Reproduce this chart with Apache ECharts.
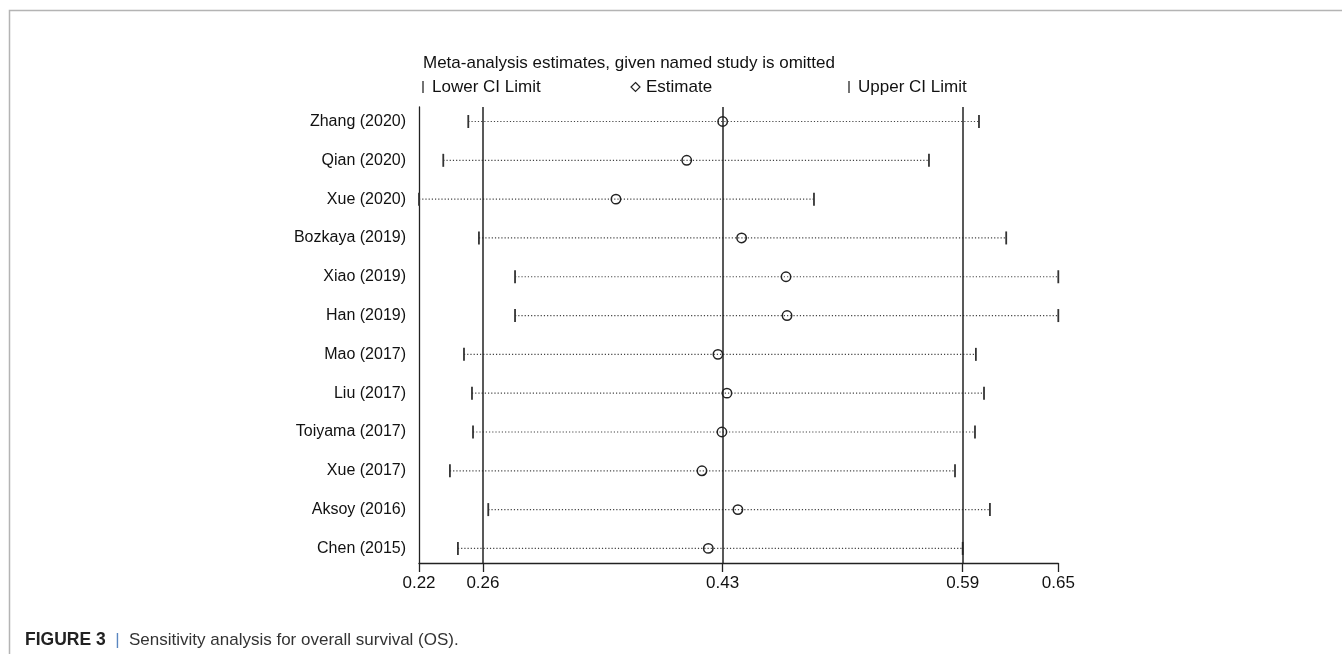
<!DOCTYPE html>
<html>
<head>
<meta charset="utf-8">
<script src="https://cdn.jsdelivr.net/npm/echarts@6/dist/echarts.min.js"></script>
<style>
  html, body { margin: 0; padding: 0; background: #fff; }
  #chart { width: 1342px; height: 654px; }
</style>
</head>
<body>
<div id="chart"></div>
<script>
// studies omitted one at a time (top to bottom)
const studies = ['Zhang (2020)', 'Qian (2020)', 'Xue (2020)', 'Bozkaya (2019)', 'Xiao (2019)', 'Han (2019)',
  'Mao (2017)', 'Liu (2017)', 'Toiyama (2017)', 'Xue (2017)', 'Aksoy (2016)', 'Chen (2015)'];
const lowerCI  = [0.2541, 0.2372, 0.2208, 0.2613, 0.2857, 0.2857, 0.2512, 0.2566, 0.2573, 0.2417, 0.2676, 0.2471];
const estimate = [0.4260, 0.4017, 0.3539, 0.4388, 0.4688, 0.4695, 0.4228, 0.4289, 0.4255, 0.4120, 0.4363, 0.4163];
const upperCI  = [0.5992, 0.5654, 0.4877, 0.6176, 0.6528, 0.6528, 0.5971, 0.6026, 0.5965, 0.5830, 0.6066, 0.5882];

// overall estimate and its CI (vertical reference lines), axis ends
const overall = [0.2640, 0.4260, 0.5882];
const axisMin = 0.2208;
const axisMax = 0.6528;
const tickValues = [axisMin, overall[0], overall[1], overall[2], axisMax];
const rowIds = studies.map((s, i) => i + 1);

const FONT = 'Liberation Sans, Arial, sans-serif';
const chart = echarts.init(document.getElementById('chart'));

const option = {
  animation: false,
  grid: { left: 419, right: 283.7, top: 107, bottom: 91, outerBoundsMode: 'none' },
  xAxis: {
    type: 'value',
    min: axisMin,
    max: axisMax,
    axisLine: { show: true, lineStyle: { color: '#222', width: 1.3 } },
    axisTick: { show: true, customValues: tickValues, length: 9, lineStyle: { color: '#222', width: 1.3 } },
    axisLabel: {
      customValues: tickValues,
      formatter: v => v.toFixed(2),
      fontFamily: FONT, fontSize: 17, color: '#111', margin: 12,
      showMinLabel: true, showMaxLabel: true
    },
    splitLine: { show: false }
  },
  yAxis: {
    type: 'value',
    inverse: true,
    min: 0.626,
    max: 12.376,
    axisLine: { show: true, lineStyle: { color: '#222', width: 1.3 } },
    axisTick: { show: false },
    axisLabel: {
      customValues: rowIds,
      formatter: v => studies[Math.round(v) - 1] || '',
      fontFamily: FONT, fontSize: 16, color: '#111', margin: 13
    },
    splitLine: { show: false }
  },
  series: [
    {
      type: 'scatter',
      data: [],
      silent: true,
      markLine: {
        silent: true,
        precision: 4,
        symbol: ['none', 'none'],
        label: { show: false },
        lineStyle: { color: '#222', width: 1.5, type: 'solid' },
        data: overall.map(v => ({ xAxis: v }))
      }
    },
    {
      type: 'custom',
      clip: false,
      encode: { x: [0, 1, 2], y: 3 },
      data: studies.map((s, i) => [lowerCI[i], estimate[i], upperCI[i], i + 1]),
      renderItem: (params, api) => {
        const row = api.value(3);
        const pL = api.coord([api.value(0), row]);
        const pE = api.coord([api.value(1), row]);
        const pU = api.coord([api.value(2), row]);
        const cap = 6.5;
        return {
          type: 'group',
          children: [
            { type: 'line', shape: { x1: pL[0], y1: pL[1], x2: pU[0], y2: pU[1] },
              style: { stroke: '#444', lineWidth: 1.2, lineDash: [1.2, 2] } },
            { type: 'line', shape: { x1: pL[0], y1: pL[1] - cap, x2: pL[0], y2: pL[1] + cap },
              style: { stroke: '#333', lineWidth: 1.8 } },
            { type: 'line', shape: { x1: pU[0], y1: pU[1] - cap, x2: pU[0], y2: pU[1] + cap },
              style: { stroke: '#333', lineWidth: 1.8 } },
            { type: 'circle', shape: { cx: pE[0], cy: pE[1], r: 4.7 },
              style: { fill: 'none', stroke: '#222', lineWidth: 1.5 } }
          ]
        };
      }
    }
  ],
  graphic: [
    // figure frame
    { type: 'polyline', shape: { points: [[1342, 10.5], [9.5, 10.5], [9.5, 654]] },
      style: { stroke: '#b4b4b4', lineWidth: 1.5, fill: 'none' } },
    // legend title
    { type: 'text', x: 423, y: 63,
      style: { text: 'Meta-analysis estimates, given named study is omitted', fontFamily: FONT, fontSize: 17,
        fill: '#111', verticalAlign: 'middle' } },
    // legend entries
    { type: 'line', shape: { x1: 423, y1: 81, x2: 423, y2: 93 }, style: { stroke: '#444', lineWidth: 1.5 } },
    { type: 'text', x: 432, y: 87,
      style: { text: 'Lower CI Limit', fontFamily: FONT, fontSize: 17, fill: '#111', verticalAlign: 'middle' } },
    { type: 'polygon', shape: { points: [[635.5, 82.5], [640, 87], [635.5, 91.5], [631, 87]] },
      style: { stroke: '#222', lineWidth: 1.2, fill: 'none' } },
    { type: 'text', x: 646, y: 87,
      style: { text: 'Estimate', fontFamily: FONT, fontSize: 17, fill: '#111', verticalAlign: 'middle' } },
    { type: 'line', shape: { x1: 849, y1: 81, x2: 849, y2: 93 }, style: { stroke: '#444', lineWidth: 1.5 } },
    { type: 'text', x: 858, y: 87,
      style: { text: 'Upper CI Limit', fontFamily: FONT, fontSize: 17, fill: '#111', verticalAlign: 'middle' } },
    // caption
    { type: 'text', x: 25, y: 640,
      style: {
        text: '{b|FIGURE 3}{s|  |  }{n|Sensitivity analysis for overall survival (OS).}',
        verticalAlign: 'middle',
        rich: {
          b: { fontFamily: FONT, fontSize: 17.5, fontWeight: 'bold', fill: '#222' },
          s: { fontFamily: FONT, fontSize: 17, fill: '#5a86c0' },
          n: { fontFamily: FONT, fontSize: 17, fill: '#333' }
        }
      } }
  ]
};
chart.setOption(option);
</script>
</body>
</html>
